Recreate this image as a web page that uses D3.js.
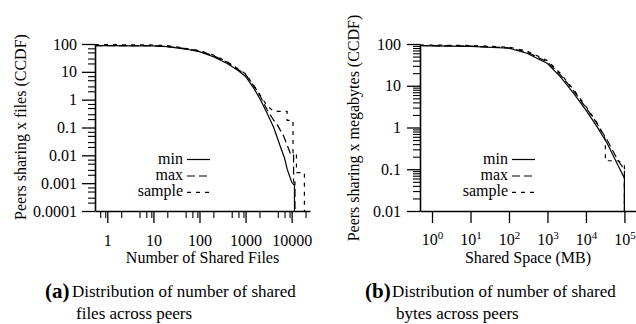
<!DOCTYPE html>
<html>
<head>
<meta charset="utf-8">
<script src="https://cdn.jsdelivr.net/npm/d3@7"></script>
<style>
  html, body { margin: 0; padding: 0; background: #fff; }
  svg { display: block; }
  svg text { font-family: "Liberation Serif", "DejaVu Serif", serif !important; fill: #000; }
</style>
</head>
<body>
<svg id="chart" width="636" height="324"></svg>
<script>
// ---------------- DATA ----------------
// Panel (a): number of shared files (CCDF, %)
const filesMinX = [0.54, 1, 3, 10, 20, 38, 60, 100, 200, 400, 700, 1000, 1500, 2100, 2900, 4100, 5600, 7000, 8000, 10000, 11000, 11500, 11500];
const filesMinY = [87, 87, 86, 85, 80, 70, 62, 53, 35, 20, 11, 6.8, 2.6, 1.0, 0.34, 0.098, 0.022, 0.008, 0.0032, 0.0011, 0.0009, 0.0009, 0.0001];
const filesMaxX = [0.54, 1, 10, 38, 100, 200, 400, 1000, 1500, 2100, 2900, 4000, 4800, 6700, 8600, 9500, 11000, 11000, 11800, 11800];
const filesMaxY = [88, 88, 87, 73, 56, 38, 22, 8, 3.2, 1.3, 0.45, 0.19, 0.13, 0.049, 0.017, 0.011, 0.011, 0.0011, 0.0011, 0.0001];
const filesSampleX = [0.54, 1, 10, 20, 38, 100, 200, 400, 1000, 1500, 2100, 2900, 3600, 4070, 7950, 7950, 10700, 10700, 12700, 12700, 18900, 18900];
const filesSampleY = [95, 95, 92, 87, 75, 58, 40, 23, 8.5, 3.3, 1.4, 0.62, 0.45, 0.38, 0.38, 0.18, 0.18, 0.0126, 0.0126, 0.0024, 0.0024, 0.0001];

// Panel (b): shared space in MB (CCDF, %)
const spaceMinX = [0.49, 1, 10, 100, 292, 1000, 2150, 4800, 10000, 19400, 35600, 64000, 100000, 100000];
const spaceMinY = [91, 90, 88, 79, 60, 34, 16.5, 6.6, 2.6, 1.05, 0.42, 0.14, 0.061, 0.01];
const spaceMaxX = [0.49, 1, 10, 100, 292, 1000, 2150, 4800, 10000, 19400, 35600, 64000, 100000, 100000];
const spaceMaxY = [92, 91, 89, 81, 64, 37, 18.5, 7.5, 3.0, 1.25, 0.5, 0.18, 0.096, 0.01];
const spaceSampleX = [0.49, 1, 10, 100, 292, 1000, 2150, 4800, 10000, 19400, 30000, 32000, 32000, 70000, 95000, 100000, 100000];
const spaceSampleY = [95, 94, 92, 84, 68, 40, 20, 8, 3.2, 1.3, 0.6, 0.5, 0.16, 0.16, 0.13, 0.12, 0.01];

// Ticks and labels
const filesTicks = [1, 10, 100, 1000, 10000];
const filesTickLabels = ["1", "10", "100", "1000", "10000"];
const filesMinorMult = [2, 5, 7, 9];
const ccdfTicksA = [100, 10, 1, 0.1, 0.01, 0.001, 0.0001];
const ccdfTickLabelsA = ["100", "10", "1", "0.1", "0.01", "0.001", "0.0001"];
const ccdfMinorMultA = [2, 3, 5, 7];
const spaceTicks = [1, 10, 100, 1000, 10000, 100000];
const spaceTickExp = ["0", "1", "2", "3", "4", "5"];
const ccdfTicksB = [100, 10, 1, 0.1, 0.01];
const ccdfTickLabelsB = ["100", "10", "1", "0.1", "0.01"];
const ccdfMinorMultB = [2, 3, 4, 5, 6, 7, 8, 9];

const seriesNames = ["min", "max", "sample"];
const dashes = [null, "8,4", "4,5"];

const xTitles = ["Number of Shared Files", "Shared Space (MB)"];
const yTitles = ["Peers sharing x files (CCDF)", "Peers sharing x megabytes (CCDF)"];
const captionTags = ["(a)", "(b)"];
const captionLine1 = ["Distribution of number of shared", "Distribution of number of shared"];
const captionLine2 = ["files across peers", "bytes across peers"];

// ---------------- DRAWING ----------------
const FONT = "'Liberation Serif', 'DejaVu Serif', serif";
const svg = d3.select("#chart").style("font-family", FONT);
svg.append("rect").attr("width", 636).attr("height", 324).attr("fill", "#fff");

function minorTicks(domain, mults) {
  const out = [];
  const lo = Math.floor(Math.log10(domain[0])) - 1, hi = Math.ceil(Math.log10(domain[1])) + 1;
  for (let e = lo; e <= hi; e++) {
    for (const m of mults) {
      const v = m * Math.pow(10, e);
      if (v >= domain[0] && v <= domain[1]) out.push(v);
    }
  }
  return out;
}

function txt(sel) { return sel.style("font-family", FONT).attr("fill", "#000"); }

function panel(cfg) {
  const g = svg.append("g");
  const x = d3.scaleLog().domain(cfg.xDomain).range(cfg.xRange);
  const y = d3.scaleLog().domain(cfg.yDomain).range(cfg.yRange);

  // minor y ticks
  g.append("g").attr("transform", `translate(${cfg.xRange[0]},0)`)
    .call(d3.axisLeft(y).tickValues(minorTicks(cfg.yDomain, cfg.yMinor)).tickSize(7).tickSizeOuter(0).tickFormat(""))
    .call(s => s.select(".domain").remove())
    .call(s => s.selectAll("line").attr("stroke", "#000").attr("stroke-width", 1.1));
  // minor x ticks
  if (cfg.xMinor) {
    g.append("g").attr("transform", `translate(0,${cfg.yRange[0]})`)
      .call(d3.axisBottom(x).tickValues(minorTicks(cfg.xDomain, cfg.xMinor)).tickSize(7).tickSizeOuter(0).tickFormat(""))
      .call(s => s.select(".domain").remove())
      .call(s => s.selectAll("line").attr("stroke", "#000").attr("stroke-width", 1.1));
  }

  // major y axis
  const ya = g.append("g").attr("transform", `translate(${cfg.xRange[0]},0)`)
    .call(d3.axisLeft(y).tickValues(cfg.yTicks).tickSize(13).tickSizeOuter(0).tickPadding(cfg.yPad)
      .tickFormat((d, i) => cfg.yLabels[i]));
  ya.attr("font-family", null);
  ya.selectAll("line").attr("stroke", "#000").attr("stroke-width", 1.3);
  ya.select(".domain").attr("stroke", "#000").attr("stroke-width", 1.6);
  txt(ya.selectAll("text").attr("font-size", 16));

  // major x axis
  const xa = g.append("g").attr("transform", `translate(0,${cfg.yRange[0]})`)
    .call(d3.axisBottom(x).tickValues(cfg.xTicks).tickSize(12).tickSizeOuter(0).tickPadding(12)
      .tickFormat(cfg.xExp ? (() => "") : ((d, i) => cfg.xLabels[i])));
  xa.attr("font-family", null);
  xa.selectAll("line").attr("stroke", "#000").attr("stroke-width", 1.3);
  xa.select(".domain").attr("stroke", "#000").attr("stroke-width", 1.6);
  txt(xa.selectAll("text").attr("font-size", 16));
  if (cfg.xExp) {
    xa.selectAll(".tick text").each(function (d, i) {
      const t = d3.select(this);
      t.attr("text-anchor", "middle").attr("dy", null).attr("y", 34);
      t.append("tspan").text("10");
      t.append("tspan").attr("font-size", 11).attr("dy", -6).text(cfg.xExp[i]);
    });
  }

  // axis titles
  txt(g.append("text")).attr("x", (cfg.xRange[0] + cfg.xRange[1]) / 2).attr("y", 263)
    .attr("text-anchor", "middle").attr("font-size", 16).text(cfg.xTitle);
  txt(g.append("text")).attr("transform", `translate(${cfg.yTitleX},${cfg.yTitleY}) rotate(-90)`)
    .attr("text-anchor", "middle").attr("dy", "0.35em").attr("font-size", 16).text(cfg.yTitle);

  // curves
  const line = d3.line().x(d => x(d[0])).y(d => y(d[1]));
  cfg.series.forEach((s, i) => {
    const pts = s.x.map((v, k) => [v, s.y[k]]);
    g.append("path").datum(pts).attr("d", line).attr("fill", "none")
      .attr("stroke", "#000").attr("stroke-width", 1.2)
      .attr("stroke-dasharray", dashes[i]);
  });

  // legend
  const baselines = [163.5, 180, 196.3];
  seriesNames.forEach((n, i) => {
    txt(g.append("text")).attr("x", cfg.legX).attr("y", baselines[i]).attr("text-anchor", "end")
      .attr("font-size", 16).text(n);
    g.append("line").attr("x1", cfg.legX + 4).attr("x2", cfg.legX + 27)
      .attr("y1", baselines[i] - 4).attr("y2", baselines[i] - 4)
      .attr("stroke", "#000").attr("stroke-width", 1.2).attr("stroke-dasharray", dashes[i]);
  });

  // caption
  txt(g.append("text")).attr("x", cfg.capX).attr("y", 298).attr("font-size", 21).attr("font-weight", "bold")
    .text(cfg.capTag);
  txt(g.append("text")).attr("x", cfg.capX + 27).attr("y", 297).attr("font-size", 17).text(cfg.cap1);
  txt(g.append("text")).attr("x", cfg.capX + 31).attr("y", 319).attr("font-size", 17).text(cfg.cap2);
}

panel({
  xDomain: [0.54, 25000], xRange: [95, 310],
  yDomain: [0.0001, 100], yRange: [211, 44],
  xTicks: filesTicks, xLabels: filesTickLabels, xMinor: filesMinorMult,
  yTicks: ccdfTicksA, yLabels: ccdfTickLabelsA, yMinor: ccdfMinorMultA, yPad: 5,
  xTitle: xTitles[0], yTitle: yTitles[0], yTitleX: 20, yTitleY: 127,
  series: [{x: filesMinX, y: filesMinY}, {x: filesMaxX, y: filesMaxY}, {x: filesSampleX, y: filesSampleY}],
  legX: 183, capX: 45, capTag: captionTags[0], cap1: captionLine1[0], cap2: captionLine2[0]
});

panel({
  xDomain: [0.487, 200000], xRange: [420, 636],
  yDomain: [0.01, 100], yRange: [211, 44],
  xTicks: spaceTicks, xExp: spaceTickExp, xMinor: null,
  yTicks: ccdfTicksB, yLabels: ccdfTickLabelsB, yMinor: ccdfMinorMultB, yPad: 6,
  xTitle: xTitles[1], yTitle: yTitles[1], yTitleX: 353, yTitleY: 128,
  series: [{x: spaceMinX, y: spaceMinY}, {x: spaceMaxX, y: spaceMaxY}, {x: spaceSampleX, y: spaceSampleY}],
  legX: 508, capX: 365, capTag: captionTags[1], cap1: captionLine1[1], cap2: captionLine2[1]
});
</script>
</body>
</html>
